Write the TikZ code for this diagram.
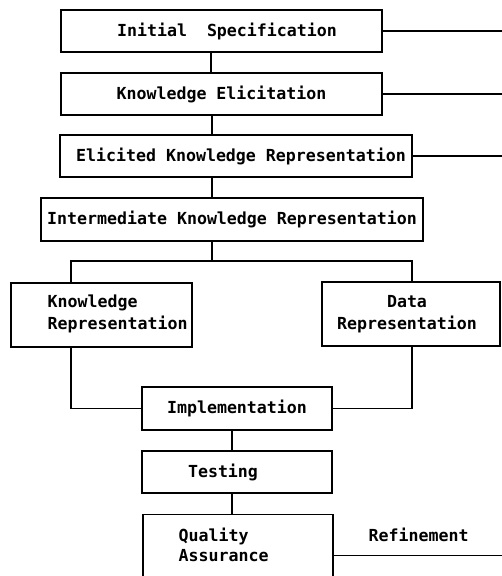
\documentclass[tikz,border=0pt]{standalone}
\usepackage{fontspec}
\setmonofont{DejaVu Sans Mono}
\newcommand\diagfont{\fontsize{16.6pt}{21.5pt}\selectfont\ttfamily\bfseries}
\begin{document}
\begin{tikzpicture}[x=1pt,y=-1pt,line width=1.4pt,
  box/.style={draw,rectangle,inner sep=0pt,font=\diagfont},
  lbl/.style={inner sep=0pt,font=\diagfont}]
\useasboundingbox (0,0) rectangle (502,576);
\clip (0,0) rectangle (502,576);
\node[box,minimum width=321pt,minimum height=42pt] (is) at (221.5,31) {\hspace*{11pt}Initial~~Specification};
\node[box,minimum width=321pt,minimum height=42pt] (ke) at (221.5,94) {Knowledge Elicitation};
\node[box,minimum width=352pt,minimum height=42pt] (ekr) at (236,156) {\hspace*{10pt}Elicited Knowledge Representation};
\node[box,minimum width=382pt,minimum height=43pt] (ikr) at (232,219.5) {Intermediate Knowledge Representation};
\node[box,minimum width=181pt,minimum height=64pt] (kr) at (101.5,315) {};
\node[box,minimum width=178pt,minimum height=64pt] (dr) at (411,314) {};
\node[box,minimum width=190pt,minimum height=43pt] (impl) at (237,408.5) {Implementation};
\node[box,minimum width=190pt,minimum height=42pt] (test) at (237,472) {Testing\hspace*{28pt}};
\node[box,minimum width=190pt,minimum height=82pt,anchor=north] (qa) at (238,514) {};
\node[lbl,align=left,anchor=west] (krt) at (47,314) {Knowledge\\Representation};
\node[lbl,align=center] (drt) at (407,314) {Data\\Representation};
\node[lbl,align=left,anchor=west] (qat) at (178,545) {Quality\\[-1.5pt]Assurance};
\node[lbl,anchor=west] (ref) at (368,535) {Refinement};
\coordinate (rim) at (502,0);
\coordinate (v1) at (211,0);
\coordinate (v2) at (212,0);
\coordinate (v3) at (232,0);
\coordinate (xl) at (71,0);
\coordinate (xr) at (412,0);
\coordinate (split) at (212,261);
\draw (is.east) -- (is.east -| rim);
\draw (ke.east) -- (ke.east -| rim);
\draw (ekr.east) -- (ekr.east -| rim);
\draw (is.south -| v1) -- (ke.north -| v1);
\draw (ke.south -| v2) -- (ekr.north -| v2);
\draw (ekr.south -| v2) -- (ikr.north -| v2);
\draw (ikr.south -| split) -- (split);
\draw (kr.north -| xl) |- (split) -| (dr.north -| xr);
\draw (kr.south -| xl) |- (impl.west);
\draw (dr.south -| xr) |- (impl.east);
\draw (impl.south -| v3) -- (test.north -| v3);
\draw (test.south -| v3) -- (qa.north -| v3);
\draw (qa.east) -- (qa.east -| rim);
\end{tikzpicture}
\end{document}
